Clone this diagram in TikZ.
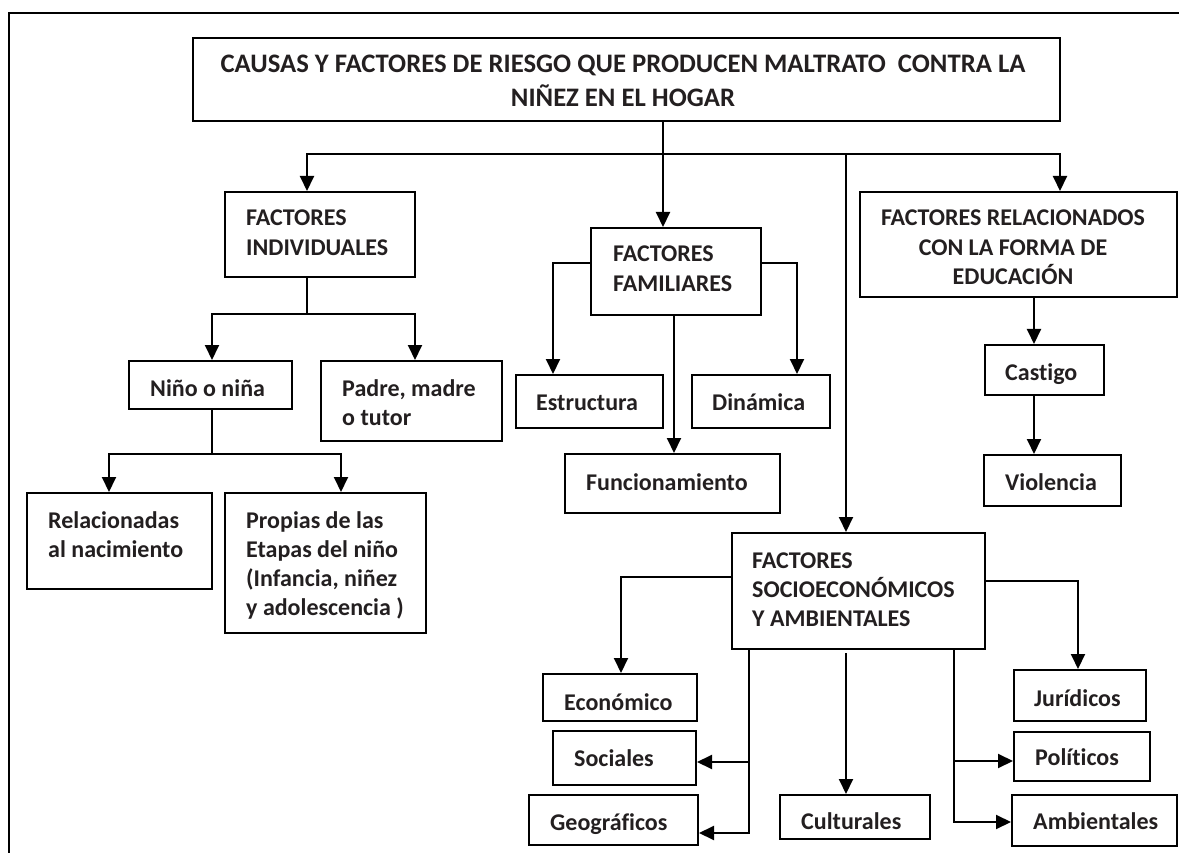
\documentclass[tikz,border=0pt]{standalone}
\usepackage{fontspec}
\setmainfont{Carlito}[Ligatures=NoCommon]
\usetikzlibrary{arrows.meta,fit}
\definecolor{txtc}{HTML}{231F20}
\newcommand\bodyfont{\fontsize{24}{29.3}\selectfont\bfseries}
\newcommand\titlefont{\fontsize{26.7}{34}\selectfont\bfseries}
\tikzset{
  box/.style={draw, line width=2pt, inner sep=0pt},
  lbl/.style={inner sep=0pt, anchor=base west, align=left, font=\bodyfont, text=txtc},
  clbl/.style={inner sep=0pt, anchor=base, align=center, font=\bodyfont, text=txtc},
  ln/.style={line width=2pt, line join=miter},
  arr/.style={line width=2pt, line join=miter, -{Triangle[length=15pt,width=14pt]}},
}
\begin{document}
\begin{tikzpicture}[x=1pt,y=-1pt]
\useasboundingbox (0,0) rectangle (1179,853);
% frame
\coordinate (f1) at (9,853);
\coordinate (f2) at (9,13);
\coordinate (f3) at (1179,13);
\draw[ln] (f1) -- (f2) -- (f3);
% boxes
\node[box, fit={(193,38) (1060,121)}] (title) {};
\node[box, fit={(225,192) (415,277)}] (ind) {};
\node[box, fit={(129,361) (292,409)}] (nino) {};
\node[box, fit={(321,361) (502,441)}] (padre) {};
\node[box, fit={(27,493) (212,589)}] (rel) {};
\node[box, fit={(225,493) (426,633)}] (prop) {};
\node[box, fit={(591,228) (761,315)}] (fam) {};
\node[box, fit={(516,375) (663,428)}] (estr) {};
\node[box, fit={(692,375) (830,428)}] (din) {};
\node[box, fit={(565,454) (780,513)}] (func) {};
\node[box, fit={(860,192) (1177,297)}] (relac) {};
\node[box, fit={(985,345) (1104,395)}] (cast) {};
\node[box, fit={(984,455) (1121,506)}] (viol) {};
\node[box, fit={(732,533) (985,649)}] (socio) {};
\node[box, fit={(543,674) (697,721)}] (eco) {};
\node[box, fit={(553,731) (696,785)}] (soc) {};
\node[box, fit={(529,795) (698,845)}] (geo) {};
\node[box, fit={(780,795) (930,839)}] (cult) {};
\node[box, fit={(1014,670) (1146,721)}] (jur) {};
\node[box, fit={(1014,732) (1150,781)}] (pol) {};
\node[box, fit={(1012,795) (1177,846)}] (amb) {};
% texts (multi-line: position = baseline of last line)
\node[clbl, font=\titlefont] (title-t) at (623,107) {CAUSAS Y FACTORES DE RIESGO QUE PRODUCEN MALTRATO\ \ CONTRA LA\\NIÑEZ EN EL HOGAR};
\node[lbl] (ind-t) at (246,255.3) {FACTORES\\INDIVIDUALES};
\node[lbl] (nino-t) at (150,396) {Niño o niña};
\node[lbl] (padre-t) at (342,425.3) {Padre, madre\\o tutor};
\node[lbl] (rel-t) at (48,557.3) {Relacionadas\\al nacimiento};
\node[lbl] (prop-t) at (246,615.9) {Propias de las\\Etapas del niño\\(Infancia, niñez\\y adolescencia )};
\node[lbl] (fam-t) at (613,291.3) {FACTORES\\FAMILIARES};
\node[lbl] (estr-t) at (536,410) {Estructura};
\node[lbl] (din-t) at (712,410) {Dinámica};
\node[lbl] (func-t) at (586,490) {Funcionamiento};
\node[clbl] (relac-t) at (1013,284.6) {FACTORES RELACIONADOS\\CON LA FORMA DE\\EDUCACIÓN};
\node[lbl] (cast-t) at (1005,380) {Castigo};
\node[lbl] (viol-t) at (1005,490) {Violencia};
\node[lbl] (socio-t) at (752,626.6) {FACTORES\\SOCIOECONÓMICOS\\Y AMBIENTALES};
\node[lbl] (eco-t) at (564,710) {Económico};
\node[lbl] (soc-t) at (574,766) {Sociales};
\node[lbl] (geo-t) at (550,830) {Geográficos};
\node[lbl] (cult-t) at (801,829) {Culturales};
\node[lbl] (jur-t) at (1034,706) {Jurídicos};
\node[lbl] (pol-t) at (1035,765) {Políticos};
\node[lbl] (amb-t) at (1033,829) {Ambientales};
% junctions
\coordinate (jt) at (663,154);
\coordinate (jl) at (307,154);
\coordinate (jr) at (1060,154);
\coordinate (js) at (846,154);
\coordinate (ki) at (307,314);
\coordinate (kn) at (212,314);
\coordinate (kp) at (415,314);
\coordinate (kn2) at (212,454);
\coordinate (kr) at (109,454);
\coordinate (kq) at (341,454);
\coordinate (fl) at (553,263);
\coordinate (fr) at (797,263);
\coordinate (fv) at (674,315);
\coordinate (rv) at (1034,297);
\coordinate (sl) at (621,577);
\coordinate (sb) at (749,833);
\coordinate (sm) at (749,762);
\coordinate (cv) at (846,653);
\coordinate (sr) at (1078,581);
\coordinate (rb) at (954,822);
\coordinate (rm) at (954,761);
% connectors
\draw[ln] (title.south -| jt) -- (jt);
\draw[arr] (jt) -- (fam.north -| jt);
\draw[arr] (jt) -- (jl) -- (ind.north -| jl);
\draw[arr] (jt) -- (jr) -- (relac.north -| jr);
\draw[arr] (js) -- (socio.north -| js);
\draw[ln] (ind.south -| ki) -- (ki);
\draw[arr] (ki) -- (kn) -- (nino.north -| kn);
\draw[arr] (ki) -- (kp) -- (padre.north -| kp);
\draw[ln] (nino.south -| kn2) -- (kn2);
\draw[arr] (kn2) -- (kr) -- (rel.north -| kr);
\draw[arr] (kn2) -- (kq) -- (prop.north -| kq);
\draw[arr] (fam.west |- fl) -- (fl) -- (estr.north -| fl);
\draw[arr] (fam.east |- fr) -- (fr) -- (din.north -| fr);
\draw[arr] (fam.south -| fv) -- (func.north -| fv);
\draw[arr] (relac.south -| rv) -- (cast.north -| rv);
\draw[arr] (cast.south -| rv) -- (viol.north -| rv);
\draw[arr] (socio.west |- sl) -- (sl) -- (eco.north -| sl);
\draw[arr] (socio.south -| sb) -- (sb) -- (geo.east |- sb);
\draw[arr] (sm) -- (soc.east |- sm);
\draw[arr] (cv) -- (cult.north -| cv);
\draw[arr] (socio.east |- sr) -- (sr) -- (jur.north -| sr);
\draw[arr] (socio.south -| rb) -- (rb) -- (amb.west |- rb);
\draw[arr] (rm) -- (pol.west |- rm);
\end{tikzpicture}
\end{document}
